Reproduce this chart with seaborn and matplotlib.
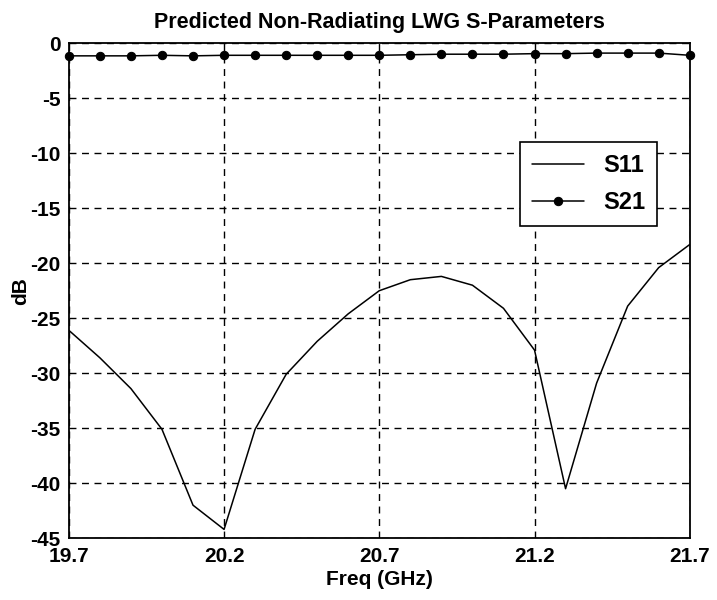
import numpy as np
import pandas as pd
import matplotlib
matplotlib.use("Agg")
import matplotlib.pyplot as plt
import seaborn as sns

freq = [19.7, 19.8, 19.9, 20.0, 20.1, 20.2, 20.3, 20.4, 20.5, 20.6, 20.7,
        20.8, 20.9, 21.0, 21.1, 21.2, 21.3, 21.4, 21.5, 21.6, 21.7]
s11 = [-26.1, -28.6, -31.4, -35.1, -42.0, -44.2, -35.1, -30.1, -27.1, -24.6, -22.5,
       -21.5, -21.2, -22.0, -24.1, -27.9, -40.5, -30.9, -23.9, -20.4, -18.3]
s21 = [-1.15, -1.15, -1.15, -1.1, -1.15, -1.1, -1.1, -1.1, -1.1, -1.1, -1.1,
       -1.05, -1.0, -1.0, -1.0, -0.95, -0.95, -0.9, -0.9, -0.9, -1.1]
xticks = [19.7, 20.2, 20.7, 21.2, 21.7]
yticks = [0, -5, -10, -15, -20, -25, -30, -35, -40, -45]

sns.set_theme(style="white", rc={"text.color": "black", "axes.labelcolor": "black",
                                 "xtick.color": "black", "ytick.color": "black"})
plt.rcParams['font.family'] = ['Liberation Sans', 'DejaVu Sans']

fig = plt.figure(figsize=(7.17, 6.0), dpi=100)
ax = fig.add_axes([0.096, 0.103, 0.866, 0.825])

df = pd.DataFrame({"freq": freq, "S11": s11, "S21": s21})
sns.lineplot(data=df, x="freq", y="S11", ax=ax, color="black", lw=1.1, label="S11")
sns.lineplot(data=df, x="freq", y="S21", ax=ax, color="black", lw=1.1,
             marker="o", markersize=6, markeredgecolor="black", label="S21",
             clip_on=False)

ax.set_xlim(19.7, 21.7)
ax.set_ylim(-45, 0)
ax.set_xticks(xticks)
ax.set_xticklabels([f"{t:.1f}" for t in xticks])
ax.set_yticks(yticks)
ax.set_yticklabels([str(t) for t in yticks])
ax.grid(True, color="black", linestyle=(0, (5, 4)), linewidth=1.0)
ax.tick_params(axis="both", direction="in", length=5, width=1, color="black",
               labelcolor="black", labelsize=15)
ax.tick_params(axis="x", pad=6)
ax.tick_params(axis="y", pad=6)
for lab in ax.get_xticklabels() + ax.get_yticklabels():
    lab.set_fontweight("bold")
for sp in ax.spines.values():
    sp.set_color("black")
    sp.set_linewidth(1.3)

ax.set_title("Predicted Non-Radiating LWG S-Parameters", fontsize=15.5,
             fontweight="bold", pad=11, color="black")
ax.set_xlabel("Freq (GHz)", fontsize=15, fontweight="bold", labelpad=3, color="black")
ax.set_ylabel("dB", fontsize=15, fontweight="bold", color="black")
ax.yaxis.set_label_coords(-0.063, 0.5)

leg = ax.legend(loc="upper right", bbox_to_anchor=(0.947, 0.8), borderaxespad=0,
                prop={"size": 17, "weight": "bold"}, frameon=True, fancybox=False,
                handlelength=2.2, handletextpad=0.8, borderpad=0.5,
                labelspacing=0.6)
leg.get_frame().set_edgecolor("black")
leg.get_frame().set_linewidth(1.2)
leg.get_frame().set_alpha(1)
for t in leg.get_texts():
    t.set_color("black")

fig.savefig("out.png", dpi=100)
